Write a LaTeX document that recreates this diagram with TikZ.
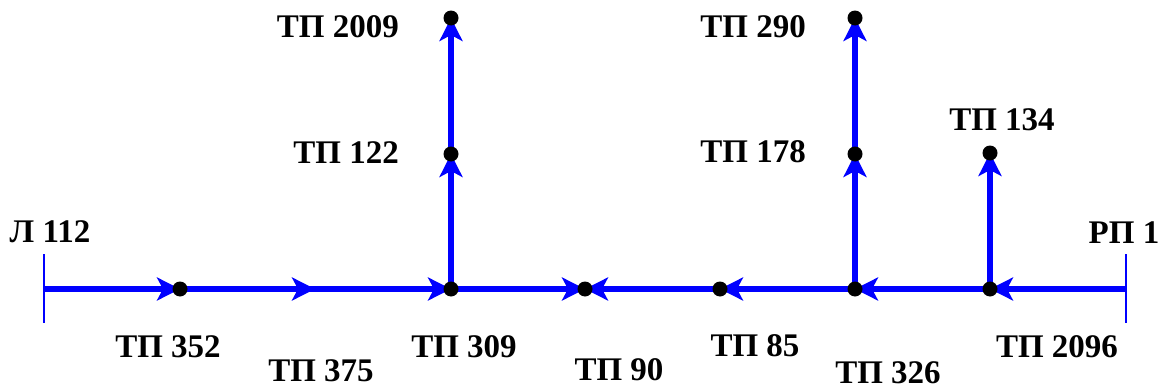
\documentclass[tikz,border=0pt]{standalone}
\usepackage{fontspec}
\setmainfont{Liberation Serif}
\usetikzlibrary{arrows.meta}
\begin{document}
\begin{tikzpicture}[x=1pt,y=-1pt,
  feeder/.style={draw=blue, line width=5.5pt},
  flow/.style={feeder, -{Stealth[length=23pt,width=23pt,inset=6pt]}},
  tick/.style={draw=blue, line width=2pt},
  sub/.style={circle, fill=black, inner sep=0pt, minimum size=15pt},
  lbl/.style={font=\fontsize{33}{36}\selectfont\bfseries, inner sep=0pt}]
\useasboundingbox (0,0) rectangle (1163,388);

% supply ends of the feeder
\coordinate (L112) at (44,289);
\coordinate (RP1) at (1126,289);
\coordinate (L112top) at (44,254);
\coordinate (L112bot) at (44,323);
\coordinate (RP1top) at (1126,254);
\coordinate (RP1bot) at (1126,323);

% substations
\coordinate (tp352) at (180,289);
\coordinate (tp375) at (315,289);
\coordinate (tp309) at (451,289);
\coordinate (tp90) at (585,289);
\coordinate (tp85) at (720,289);
\coordinate (tp326) at (855,289);
\coordinate (tp2096) at (990,289);
\coordinate (tp122) at (451,154);
\coordinate (tp2009) at (451,18);
\coordinate (tp178) at (855,154);
\coordinate (tp290) at (855,18);
\coordinate (tp134) at (990,153);

% end ticks
\draw[tick] (L112top) -- (L112bot);
\draw[tick] (RP1top) -- (RP1bot);

% continuous feeder under the arrows
\draw[feeder] (tp352) -- (tp309);

% main line, flow from the left
\draw[flow] (L112) -- (tp352);
\draw[flow] (tp352) -- (tp375);
\draw[flow] (tp375) -- (tp309);
\draw[flow] (tp309) -- (tp90);
% main line, flow from the right
\draw[flow] (RP1) -- (tp2096);
\draw[flow] (tp2096) -- (tp326);
\draw[flow] (tp326) -- (tp85);
\draw[flow] (tp85) -- (tp90);
% branches
\draw[flow] (tp309) -- (tp122);
\draw[flow] (tp122) -- (tp2009);
\draw[flow] (tp326) -- (tp178);
\draw[flow] (tp178) -- (tp290);
\draw[flow] (tp2096) -- (tp134);

% substation dots
\foreach \p in {tp352,tp309,tp90,tp85,tp326,tp2096,tp122,tp2009,tp178,tp290,tp134}
  \node[sub] (\p dot) at (\p) {};

% labels
\node[lbl, anchor=base] (lL112) at (50,242) {Л 112};
\node[lbl, anchor=base] (lRP1) at (1124,243) {РП 1};
\node[lbl, anchor=base] (l352) at (168,357) {ТП 352};
\node[lbl, anchor=base] (l375) at (321,381) {ТП 375};
\node[lbl, anchor=base] (l309) at (464,357) {ТП 309};
\node[lbl, anchor=base] (l90) at (619,380) {ТП 90};
\node[lbl, anchor=base] (l85) at (755,356) {ТП 85};
\node[lbl, anchor=base] (l326) at (888,383) {ТП 326};
\node[lbl, anchor=base] (l2096) at (1057,357) {ТП 2096};
\node[lbl, anchor=base] (l134) at (1002,130) {ТП 134};
\node[lbl, anchor=base east] (l122) at (399,163) {ТП 122};
\node[lbl, anchor=base east] (l2009) at (399,37) {ТП 2009};
\node[lbl, anchor=base east] (l178) at (806,162) {ТП 178};
\node[lbl, anchor=base east] (l290) at (806,37) {ТП 290};
\end{tikzpicture}
\end{document}
